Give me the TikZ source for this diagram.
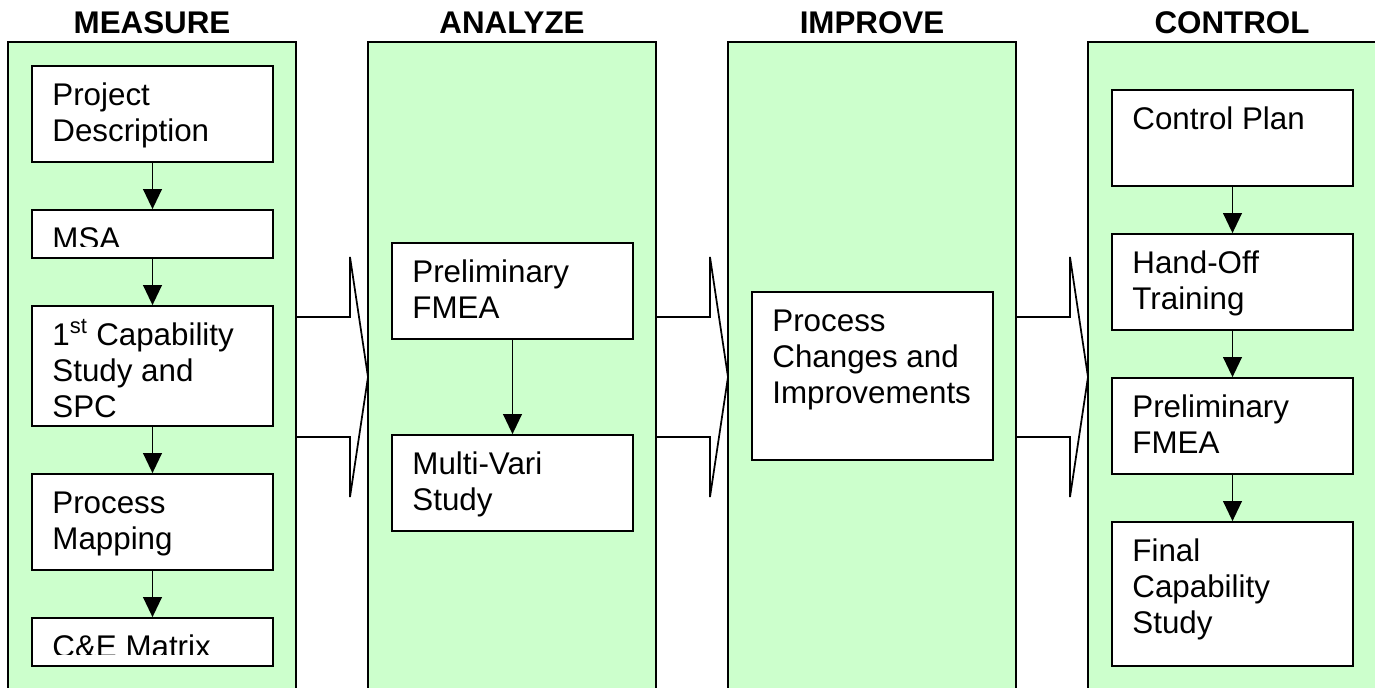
\documentclass[tikz,border=0pt]{standalone}
\usepackage{fontspec}
\setmainfont{Liberation Sans}
\usetikzlibrary{arrows.meta,fit,calc}
\definecolor{phasegreen}{HTML}{CCFFCC}

% multi-line label whose base is the baseline of its first line
\newcommand\steptext[1]{\begin{tabular}[t]{@{}l@{}}#1\end{tabular}}

\begin{document}
\begin{tikzpicture}[x=0.75pt,y=-0.75pt,
  phase/.style={draw=black, line width=1.3pt, fill=phasegreen, inner sep=0pt},
  stepbox/.style={draw=black, line width=1.3pt, fill=white, inner sep=0pt},
  steplabel/.style={anchor=base west, inner sep=0pt, font=\fontsize{23.5}{27}\selectfont},
  phasetitle/.style={anchor=base, inner sep=0pt, font=\bfseries\fontsize{23.5}{27}\selectfont},
  flow/.style={line width=1.3pt, -{Triangle[width=14pt,length=15pt]}},
  bigarrow/.style={draw=black, line width=1.3pt, fill=white, line join=miter},
]
\useasboundingbox (0,0) rectangle (1375,688);
\clip (0,0) rectangle (1375,688);

% phase columns
\node[phase, fit={(8,42) (296,700)}]    (measure) {};
\node[phase, fit={(368,42) (656,700)}]  (analyze) {};
\node[phase, fit={(728,42) (1016,700)}] (improve) {};
\node[phase, fit={(1088,42) (1376,700)}](control) {};

% phase titles
\node[phasetitle] (tmeasure) at ($(measure.north)+(0,-8)$) {MEASURE};
\node[phasetitle] (tanalyze) at ($(analyze.north)+(0,-8)$) {ANALYZE};
\node[phasetitle] (timprove) at ($(improve.north)+(0,-8)$) {IMPROVE};
\node[phasetitle] (tcontrol) at ($(control.north)+(0,-8)$) {CONTROL};

% block arrows between phases
\draw[bigarrow] (296,317) -- (350,317) -- (350,257) -- (368,377) -- (350,497) -- (350,437) -- (296,437) -- cycle;
\draw[bigarrow] (656,317) -- (710,317) -- (710,257) -- (728,377) -- (710,497) -- (710,437) -- (656,437) -- cycle;
\draw[bigarrow] (1016,317) -- (1070,317) -- (1070,257) -- (1088,377) -- (1070,497) -- (1070,437) -- (1016,437) -- cycle;

% MEASURE steps
\node[stepbox, fit={(32,66) (273,162)}]  (pd)  {};
\node[stepbox, fit={(32,210) (273,258)}] (msa) {};
\node[stepbox, fit={(32,306) (273,426)}] (cap) {};
\node[stepbox, fit={(32,474) (273,570)}] (pm)  {};
\node[stepbox, fit={(32,618) (273,666)}] (ce)  {};

% ANALYZE steps
\node[stepbox, fit={(392,243) (633,339)}] (pf1) {};
\node[stepbox, fit={(392,435) (633,531)}] (mv)  {};

% IMPROVE step
\node[stepbox, fit={(752,292) (993,460)}] (pci) {};

% CONTROL steps
\node[stepbox, fit={(1112,90) (1353,186)}]  (cp)  {};
\node[stepbox, fit={(1112,234) (1353,330)}] (ho)  {};
\node[stepbox, fit={(1112,378) (1353,474)}] (pf2) {};
\node[stepbox, fit={(1112,522) (1353,666)}] (fc)  {};

% step labels
\node[steplabel] (lpd)  at ($(pd.north west)+(21,40.5)$)  {\steptext{Project\\Description}};
\begin{scope}
  \clip (msa.north west) rectangle ($(msa.north east)+(0,37.5)$);
  \node[steplabel] (lmsa) at ($(msa.north west)+(21,40.5)$) {MSA};
\end{scope}
\node[steplabel] (lcap) at ($(cap.north west)+(21,40.5)$) {\steptext{1\textsuperscript{st} Capability\\Study and\\SPC}};
\node[steplabel] (lpm)  at ($(pm.north west)+(21,40.5)$)  {\steptext{Process\\Mapping}};
\begin{scope}
  \clip (ce.north west) rectangle ($(ce.north east)+(0,37.5)$);
  \node[steplabel] (lce) at ($(ce.north west)+(21,40.5)$) {C\&E Matrix};
\end{scope}
\node[steplabel] (lpf1) at ($(pf1.north west)+(21,40.5)$) {\steptext{Preliminary\\FMEA}};
\node[steplabel] (lmv)  at ($(mv.north west)+(21,40.5)$)  {\steptext{Multi-Vari\\Study}};
\node[steplabel] (lpci) at ($(pci.north west)+(21,40.5)$) {\steptext{Process\\Changes and\\Improvements}};
\node[steplabel] (lcp)  at ($(cp.north west)+(21,40.5)$)  {Control Plan};
\node[steplabel] (lho)  at ($(ho.north west)+(21,40.5)$)  {\steptext{Hand-Off\\Training}};
\node[steplabel] (lpf2) at ($(pf2.north west)+(21,40.5)$) {\steptext{Preliminary\\FMEA}};
\node[steplabel] (lfc)  at ($(fc.north west)+(21,40.5)$)  {\steptext{Final\\Capability\\Study}};

% flow within phases
\draw[flow] (pd.south)  -- (msa.north);
\draw[flow] (msa.south) -- (cap.north);
\draw[flow] (cap.south) -- (pm.north);
\draw[flow] (pm.south)  -- (ce.north);
\draw[flow] (pf1.south) -- (mv.north);
\draw[flow] (cp.south)  -- (ho.north);
\draw[flow] (ho.south)  -- (pf2.north);
\draw[flow] (pf2.south) -- (fc.north);
\end{tikzpicture}
\end{document}
